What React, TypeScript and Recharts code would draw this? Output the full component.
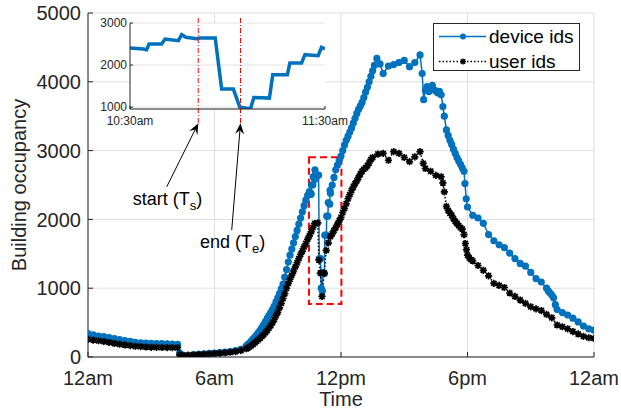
import React from 'react';
import {
  LineChart,
  Line,
  XAxis,
  YAxis,
  CartesianGrid,
  ReferenceLine,
  ReferenceArea,
  ReferenceDot,
  Legend,
} from 'recharts';

const FONT = '"Liberation Sans", Arial, Helvetica, sans-serif';
const AXIS = '#262626';
const DEVICE_COLOR = '#0072BD';
const USER_COLOR = '#000000';

// ---- Data (hours since midnight, occupancy counts) ----
const deviceHours = [
  0, 0.25, 0.5, 0.75, 1, 1.25, 1.5, 1.75, 2, 2.25, 2.5, 2.75, 3, 3.25, 3.5, 3.75, 4, 4.25, 4.35, 4.5, 4.75,
  5, 5.25, 5.5, 5.75, 6, 6.25, 6.5, 6.75, 7, 7.25, 7.5, 7.75, 8, 8.25, 8.5, 8.75, 9, 9.25, 9.5, 9.75, 10, 10.25,
  10.5, 10.568, 10.585, 10.598, 10.662, 10.68, 10.748, 10.765, 10.787, 10.842, 10.858, 10.937, 10.97, 11.03,
  11.063, 11.118, 11.135, 11.215, 11.232, 11.307, 11.32, 11.38, 11.397, 11.465, 11.482, 11.5,
  11.75, 12, 12.25, 12.5, 12.75, 13, 13.25, 13.5, 13.7, 13.85, 14, 14.25, 14.5, 14.75, 15, 15.25, 15.5, 15.75,
  15.85, 15.92, 16, 16.25, 16.5, 16.75, 16.9, 17, 17.25, 17.5, 17.75, 17.88, 18, 18.25, 18.5, 18.75, 19, 19.25,
  19.5, 19.75, 20, 20.25, 20.5, 20.75, 21, 21.25, 21.5, 21.75, 22, 22.25, 22.5, 22.75, 23, 23.25, 23.5, 23.75, 24,
];
const deviceCounts = [
  340, 322, 305, 295, 282, 266, 252, 238, 226, 214, 206, 201, 199, 196, 193, 190, 187, 184, 55, 25, 20,
  30, 40, 45, 52, 58, 63, 70, 80, 92, 112, 160, 235, 320, 430, 560, 690, 860, 1060, 1380, 1660, 1930, 2200,
  2405, 2381, 2365, 2500, 2500, 2619, 2579, 2722, 2659, 2627, 2643, 2643, 1429, 1429,
  1000, 960, 1230, 1214, 1770, 1770, 2048, 2048, 2246, 2222, 2421, 2381,
  2720, 2920, 3150, 3330, 3540, 3700, 3920, 4160, 4340, 4260, 4120, 4230, 4250, 4280, 4310, 4220, 4280, 4390,
  4120, 3740, 3880, 3900, 3870, 3810, 3500, 3300, 3090, 2900, 2750, 2520, 2180, 2060, 2020, 1943, 1780, 1690,
  1630, 1590, 1510, 1430, 1360, 1320, 1230, 1140, 1090, 1000, 900, 690, 645, 610, 565, 510, 450, 410, 390,
];
// finer readings on the steep stretches (5-minute samples)
const deviceDetailHours = [
  7.583, 7.667, 7.833, 7.917, 8.083, 8.167, 8.333, 8.417, 8.583, 8.667, 8.833, 8.917, 9.083, 9.167, 9.333, 9.417,
  9.583, 9.667, 9.833, 9.917, 10.083, 10.167, 10.333, 10.417,
  11.583, 11.667, 11.833, 11.917, 12.083, 12.167, 12.333, 12.417, 12.583, 12.667, 12.833, 12.917, 13.083, 13.167,
  13.333, 13.417, 13.583,
  16.083, 16.167, 16.333, 16.417, 16.583, 16.667, 16.833, 17.083, 17.167, 17.333, 17.417, 17.583, 17.667, 17.833,
  17.94, 21.833, 21.917, 22.083, 22.167,
];
const deviceDetailCounts = [
  185, 205, 262, 290, 355, 392, 470, 515, 600, 645, 740, 800, 920, 990, 1160, 1270,
  1480, 1570, 1750, 1840, 2020, 2110, 2280, 2350,
  2500, 2610, 2790, 2860, 3000, 3080, 3210, 3270, 3400, 3470, 3600, 3650, 3770, 3850,
  4000, 4080, 4240,
  3930, 3860, 3950, 3880, 3840, 3860, 3640, 3220, 3150, 3020, 2960, 2850, 2800, 2700,
  2300, 960, 930, 860, 760,
];

const userHours = [
  0, 0.25, 0.5, 0.75, 1, 1.25, 1.5, 1.75, 2, 2.25, 2.5, 2.75, 3, 3.25, 3.5, 3.75, 4, 4.25, 4.35, 4.5, 4.75,
  5, 5.25, 5.5, 5.75, 6, 6.25, 6.5, 6.75, 7, 7.25, 7.5, 7.75, 8, 8.25, 8.5, 8.75, 9, 9.25, 9.5, 9.75, 10, 10.25,
  10.5, 10.75, 10.9, 10.95, 11.02, 11.1, 11.2, 11.3, 11.5, 11.75, 12, 12.25, 12.5, 12.75, 13, 13.25, 13.5, 13.75,
  14, 14.25, 14.5, 14.75, 15, 15.25, 15.5, 15.75, 15.9, 16, 16.25, 16.5, 16.75, 16.9, 17, 17.25, 17.5, 17.75,
  17.9, 18, 18.25, 18.5, 18.75, 19, 19.25, 19.5, 19.75, 20, 20.25, 20.5, 20.75, 21, 21.25, 21.5, 21.75, 22,
  22.25, 22.5, 22.75, 23, 23.25, 23.5, 23.75, 24,
];
const userCounts = [
  257, 246, 236, 225, 211, 197, 186, 175, 165, 156, 150, 145, 141, 140, 138, 137, 136, 135, 32, 25, 28,
  33, 37, 40, 45, 50, 55, 62, 70, 78, 95, 120, 165, 230, 300, 385, 500, 650, 850, 1070, 1250, 1430, 1600,
  1760, 1940, 1950, 1410, 1220, 880, 1220, 1550, 1750, 1880, 2030, 2230, 2420, 2560, 2700, 2780, 2900, 2950,
  2960, 2860, 2985, 2960, 2900, 2840, 2910, 2985, 2815, 2740, 2700, 2640, 2620, 2400, 2190, 2060, 1940, 1860,
  1650, 1480, 1395, 1330, 1260, 1180, 1070, 1040, 1010, 930, 880, 828, 780, 730, 700, 675, 620, 570,
  465, 440, 410, 370, 335, 300, 280, 270,
];
const userDetailHours = [
  7.583, 7.667, 7.833, 7.917, 8.083, 8.167, 8.333, 8.417, 8.583, 8.667, 8.833, 8.917, 9.083, 9.167, 9.333, 9.417,
  9.583, 9.667, 9.833, 9.917, 10.083, 10.167, 10.333, 10.417, 10.583, 10.667,
  11.4, 11.583, 11.667, 11.833, 11.917, 12.083, 12.167, 12.333, 12.417, 12.583, 12.667, 12.833, 12.917, 13.083,
  13.167, 13.333, 13.417,
  16.833, 17.083, 17.167, 17.333, 17.417, 17.583, 17.667, 17.833, 17.95, 18.083, 18.167,
];
const userDetailCounts = [
  132, 148, 185, 208, 252, 275, 325, 355, 420, 460, 545, 600, 715, 780, 920, 1000,
  1130, 1190, 1310, 1370, 1490, 1540, 1650, 1710, 1820, 1880,
  1660, 1790, 1840, 1930, 1980, 2100, 2160, 2300, 2360, 2470, 2520, 2610, 2660, 2730,
  2750, 2820, 2870,
  2530, 2130, 2090, 2010, 1970, 1910, 1880, 1780, 1560, 1440, 1415,
];

const xTicks = [0, 6, 12, 18, 24];
const xTickLabels = ['12am', '6am', '12pm', '6pm', '12am'];
const yTicks = [0, 1000, 2000, 3000, 4000, 5000];

const insetRange = [10.5, 11.5];
const insetTickLabels = ['10:30am', '11:30am'];
const insetYTicks = [1000, 2000, 3000];
const insetYDomain = [955, 3000];

// event markers (start = 10:51, end = 11:04)
const eventStart = 10.85;
const eventEnd = 11.0667;
// highlighted region in main plot
const boxX = [10.48, 12.02];
const boxY = [770, 2905];

const buildSeries = (hA: number[], cA: number[], hB: number[], cB: number[]) =>
  hA
    .map((h, i) => ({ hour: h, count: cA[i] }))
    .concat(hB.map((h, i) => ({ hour: h, count: cB[i] })))
    .sort((a, b) => a.hour - b.hour);

const deviceData = buildSeries(deviceHours, deviceCounts, deviceDetailHours, deviceDetailCounts);
const userData = buildSeries(userHours, userCounts, userDetailHours, userDetailCounts);
const insetData = deviceData.filter((d) => d.hour >= insetRange[0] && d.hour <= insetRange[1]);

const asteriskPath = (cx: number, cy: number, s: number) => {
  const t = s * 0.72;
  return `M${cx - s},${cy}L${cx + s},${cy}M${cx},${cy - s}L${cx},${cy + s}M${cx - t},${cy - t}L${cx + t},${cy + t}M${cx - t},${cy + t}L${cx + t},${cy - t}`;
};

const UserDot = (props: any) => {
  const { cx, cy, index } = props;
  if (cx == null || cy == null) return <g key={`u-${index}`} />;
  return <path key={`u-${index}`} d={asteriskPath(cx, cy, 3.6)} stroke={USER_COLOR} strokeWidth={1.7} fill="none" />;
};

const arrowShape = (p: any) => {
  const { x1, y1, x2, y2 } = p;
  const dx = x2 - x1;
  const dy = y2 - y1;
  const len = Math.hypot(dx, dy) || 1;
  const ux = dx / len;
  const uy = dy / len;
  const nx = -uy;
  const ny = ux;
  const L = 11;
  const W = 4.5;
  const N = 7;
  const bx = x2 - ux * L;
  const by = y2 - uy * L;
  const head = `M${x2},${y2}L${bx + nx * W},${by + ny * W}L${x2 - ux * N},${y2 - uy * N}L${bx - nx * W},${by - ny * W}Z`;
  return (
    <g>
      <line x1={x1} y1={y1} x2={x2 - ux * N} y2={y2 - uy * N} stroke="#000" strokeWidth={1} />
      <path d={head} fill="#000" />
    </g>
  );
};

const startText = (p: any) => (
  <text x={p.cx} y={p.cy} fontSize={18} fontFamily={FONT} fill="#000">
    start (T<tspan dy={5} fontSize={13}>s</tspan>
    <tspan dy={-5}>)</tspan>
  </text>
);
const endText = (p: any) => (
  <text x={p.cx} y={p.cy} fontSize={18} fontFamily={FONT} fill="#000">
    end (T<tspan dy={5} fontSize={13}>e</tspan>
    <tspan dy={-5}>)</tspan>
  </text>
);

const yLabel = (props: any) => {
  const vb = props.viewBox || { x: 0, y: 13, width: 88, height: 344 };
  const cx = vb.x + 26;
  const cy = vb.y + vb.height / 2;
  return (
    <text x={cx} y={cy} transform={`rotate(-90, ${cx}, ${cy})`} textAnchor="middle" fontSize={20} fill={AXIS} fontFamily={FONT}>
      Building occupancy
    </text>
  );
};

const xLabel = (props: any) => {
  const vb = props.viewBox || { x: 88, y: 357, width: 506, height: 55 };
  return (
    <text x={vb.x + vb.width / 2} y={vb.y + 49} textAnchor="middle" fontSize={20} fill={AXIS} fontFamily={FONT}>
      Time
    </text>
  );
};

const renderLegend = (props: any) => {
  const payload = props.payload || [];
  return (
    <div
      style={{
        width: 147,
        height: 48,
        boxSizing: 'border-box',
        border: `1px solid ${AXIS}`,
        background: '#fff',
        fontFamily: FONT,
        fontSize: 19,
        color: '#000',
        position: 'relative',
      }}
    >
      {payload.map((entry: any, i: number) => {
        const dotted = entry.color === USER_COLOR;
        return (
          <div
            key={i}
            style={{ position: 'absolute', left: 4, top: 2 + i * 25, height: 21, display: 'flex', alignItems: 'center', whiteSpace: 'nowrap', lineHeight: '21px' }}
          >
            <svg width={50} height={21} style={{ display: 'block' }}>
              <line x1={1} y1={10.5} x2={48} y2={10.5} stroke={entry.color} strokeWidth={1.5} strokeDasharray={dotted ? '1.5 2' : undefined} />
              {dotted ? (
                <path d={asteriskPath(25, 10.5, 3)} stroke={entry.color} strokeWidth={1.4} fill="none" />
              ) : (
                <circle cx={25} cy={10.5} r={3} fill={entry.color} />
              )}
            </svg>
            <span style={{ marginLeft: 1 }}>{entry.value}</span>
          </div>
        );
      })}
    </div>
  );
};

const tickStyle = { fill: AXIS, fontSize: 20, fontFamily: FONT };
const insetTickStyle = { fill: AXIS, fontSize: 12, fontFamily: FONT };

export default function App() {
  return (
    <div style={{ position: 'absolute', left: 0, top: 0, width: 621, height: 412, background: '#fff', overflow: 'hidden' }}>
      {/* main chart */}
      <div style={{ position: 'absolute', left: 0, top: 0 }}>
        <LineChart width={621} height={412} margin={{ top: 13, right: 27, bottom: 0, left: 0 }}>
          <CartesianGrid stroke="#dfdfdf" strokeWidth={1} />
          <XAxis
            dataKey="hour"
            type="number"
            domain={[0, 24]}
            ticks={xTicks}
            interval={0}
            allowDataOverflow
            height={55}
            tickSize={-5}
            tickMargin={19}
            tickFormatter={(v: number) => xTickLabels[xTicks.indexOf(v)] ?? ''}
            axisLine={{ stroke: AXIS }}
            tickLine={{ stroke: AXIS }}
            tick={tickStyle}
            label={xLabel}
          />
          <XAxis
            xAxisId="top"
            orientation="top"
            type="number"
            domain={[0, 24]}
            ticks={xTicks}
            interval={0}
            allowDataOverflow
            height={0}
            tickSize={-5}
            tickFormatter={() => ''}
            axisLine={{ stroke: AXIS }}
            tickLine={{ stroke: AXIS }}
          />
          <YAxis
            type="number"
            domain={[0, 5000]}
            ticks={yTicks}
            interval={0}
            allowDataOverflow
            width={88}
            tickSize={-5}
            tickMargin={12}
            axisLine={{ stroke: AXIS }}
            tickLine={{ stroke: AXIS }}
            tick={tickStyle}
            label={yLabel}
          />
          <YAxis
            yAxisId="right"
            orientation="right"
            type="number"
            domain={[0, 5000]}
            ticks={yTicks}
            interval={0}
            allowDataOverflow
            width={0}
            tickSize={-5}
            tickFormatter={() => ''}
            axisLine={{ stroke: AXIS }}
            tickLine={{ stroke: AXIS }}
          />
          <Line
            data={deviceData}
            dataKey="count"
            name="device ids"
            stroke={DEVICE_COLOR}
            strokeWidth={1.5}
            dot={{ r: 3.6, fill: DEVICE_COLOR, stroke: DEVICE_COLOR, strokeWidth: 0 }}
            activeDot={false}
            isAnimationActive={false}
          />
          <Line
            data={userData}
            dataKey="count"
            name="user ids"
            stroke={USER_COLOR}
            strokeWidth={1.5}
            strokeDasharray="1.5 2"
            dot={UserDot}
            activeDot={false}
            isAnimationActive={false}
          />
          <ReferenceArea
            x1={boxX[0]}
            x2={boxX[1]}
            y1={boxY[0]}
            y2={boxY[1]}
            fill="none"
            fillOpacity={0}
            stroke="#ff0000"
            strokeWidth={2}
            strokeDasharray="7 4"
            ifOverflow="visible"
          />
          <ReferenceLine segment={[{ x: 3.733, y: 2473 }, { x: 5.232, y: 3398 }]} shape={arrowShape} ifOverflow="visible" />
          <ReferenceLine segment={[{ x: 6.816, y: 1844 }, { x: 7.233, y: 3398 }]} shape={arrowShape} ifOverflow="visible" />
          <ReferenceDot x={2.12} y={2207} r={0} shape={startText} ifOverflow="visible" />
          <ReferenceDot x={5.312} y={1578} r={0} shape={endText} ifOverflow="visible" />
          <Legend
            layout="horizontal"
            verticalAlign="middle"
            align="center"
            content={renderLegend}
            wrapperStyle={{ position: 'absolute', left: 433, top: 23, width: 147, height: 48 }}
          />
        </LineChart>
      </div>

      {/* inset chart */}
      <div style={{ position: 'absolute', left: 0, top: 0, pointerEvents: 'none' }}>
        <LineChart width={621} height={412} data={insetData} margin={{ top: 23, right: 296, bottom: 283, left: 90 }}>
          <CartesianGrid fill="#fff" fillOpacity={1} stroke="#e3e3e3" vertical={false} />
          <XAxis
            dataKey="hour"
            type="number"
            domain={insetRange}
            ticks={insetRange}
            interval={0}
            allowDataOverflow
            height={20}
            tickSize={-3}
            tickMargin={10}
            tickFormatter={(v: number) => insetTickLabels[insetRange.indexOf(v)] ?? ''}
            axisLine={{ stroke: AXIS }}
            tickLine={{ stroke: AXIS }}
            tick={insetTickStyle}
          />
          <XAxis
            xAxisId="top"
            orientation="top"
            type="number"
            domain={insetRange}
            ticks={insetRange}
            allowDataOverflow
            height={0}
            tickSize={-3}
            tickFormatter={() => ''}
            axisLine={{ stroke: AXIS }}
            tickLine={{ stroke: AXIS }}
          />
          <YAxis
            type="number"
            domain={insetYDomain}
            ticks={insetYTicks}
            interval={0}
            allowDataOverflow
            width={40}
            tickSize={-3}
            tickMargin={6}
            axisLine={{ stroke: AXIS }}
            tickLine={{ stroke: AXIS }}
            tick={insetTickStyle}
          />
          <YAxis
            yAxisId="right"
            orientation="right"
            type="number"
            domain={insetYDomain}
            ticks={insetYTicks}
            allowDataOverflow
            width={0}
            tickSize={-3}
            tickFormatter={() => ''}
            axisLine={{ stroke: AXIS }}
            tickLine={{ stroke: AXIS }}
          />
          <Line dataKey="count" stroke={DEVICE_COLOR} strokeWidth={3.5} dot={false} activeDot={false} isAnimationActive={false} />
          <ReferenceLine
            segment={[{ x: eventStart, y: 3119 }, { x: eventStart, y: 622 }]}
            stroke="#ff0000"
            strokeWidth={1}
            strokeDasharray="5 2 1 2"
            ifOverflow="visible"
          />
          <ReferenceLine
            segment={[{ x: eventEnd, y: 3119 }, { x: eventEnd, y: 622 }]}
            stroke="#ff0000"
            strokeWidth={1}
            strokeDasharray="5 2 1 2"
            ifOverflow="visible"
          />
        </LineChart>
      </div>
    </div>
  );
}
